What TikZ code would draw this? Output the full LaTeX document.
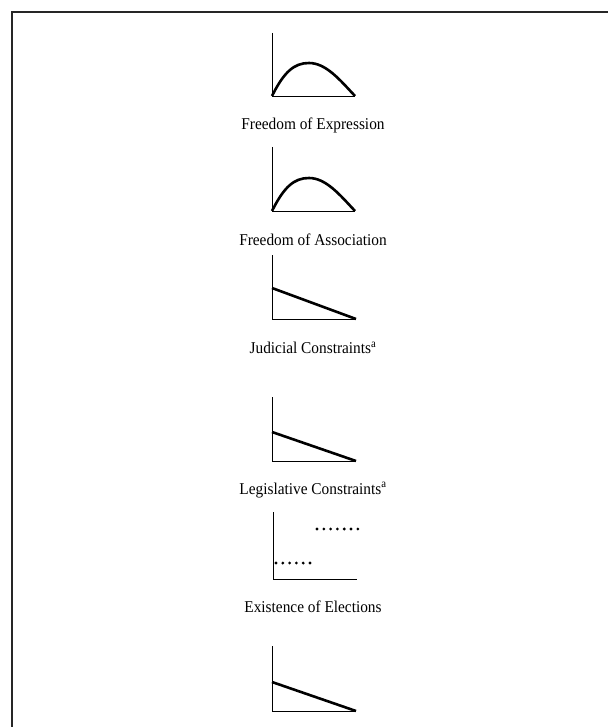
\documentclass[tikz,border=0pt]{standalone}
\usepackage{fontspec}
\setmainfont{Liberation Serif}
\newcommand{\narrowtxt}[1]{\scalebox{0.93}[1]{#1}}
\begin{document}
\begin{tikzpicture}[x=1pt,y=-1pt,
  axis/.style={line width=0.9pt},
  curve/.style={line width=2.6pt},
  dots/.style={line width=3.1pt,line cap=round,dash pattern=on 0pt off 6.8pt},
  lbl/.style={font=\fontsize{16.5}{19}\selectfont,inner sep=0pt},
  frame/.style={line width=1.6pt,draw=black!85}]
\useasboundingbox (0,0) rectangle (608,727);
\draw[frame] (12,727) -- (12,12) -- (608,12);
% plot 1
\draw[axis] (272,33) -- (272,96) -- (355,96);
\draw[curve] (272,96) .. controls (284,72) and (294,63) .. (309,63) .. controls (326,63) and (340,80) .. (355,96);
\node[lbl] (l1) at (313,125) {\narrowtxt{Freedom of Expression}};
% plot 2
\draw[axis] (272,147) -- (272,211) -- (355,211);
\draw[curve] (272,211) .. controls (284,187) and (294,178) .. (309,178) .. controls (326,178) and (340,195) .. (355,211);
\node[lbl] (l2) at (313,240) {\narrowtxt{Freedom of Association}};
% plot 3
\draw[axis] (272,255) -- (272,319) -- (356,319);
\draw[curve] (272,288) -- (356,319);
\node[lbl] (l3) at (313,348) {\narrowtxt{Judicial Constraints\textsuperscript{a}}};
% plot 4
\draw[axis] (272,397) -- (272,461) -- (356,461);
\draw[curve] (272,432) -- (356,461);
\node[lbl] (l4) at (313,490) {\narrowtxt{Legislative Constraints\textsuperscript{a}}};
% plot 5
\draw[axis] (273,512) -- (273,579) -- (357,579);
\draw[dots] (276,563) -- (310.5,563);
\draw[dots] (317,529) -- (358,529);
\node[lbl] (l5) at (313,607) {\narrowtxt{Existence of Elections}};
% plot 6
\draw[axis] (272,646) -- (272,711) -- (356,711);
\draw[curve] (272,682) -- (356,711);
\end{tikzpicture}
\end{document}
